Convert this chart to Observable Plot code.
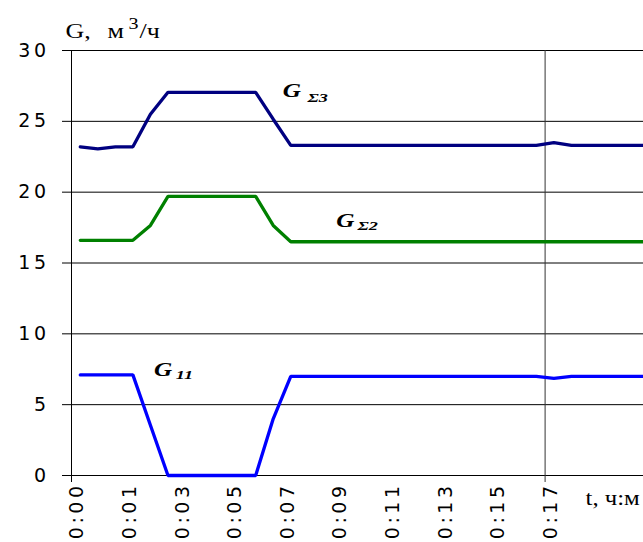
<!DOCTYPE html>
<html><head><meta charset="utf-8">
<script src="https://cdn.jsdelivr.net/npm/d3@7"></script>
<script src="https://cdn.jsdelivr.net/npm/@observablehq/plot@0.6"></script>
<style>
html,body{margin:0;padding:0;background:#fff;overflow:hidden;}
</style>
</head><body>
<div id="chart"></div>
<script>
// Series values, one per time step (category index 0..33)
const gSigma3 = [23.2, 23.05, 23.2, 23.2, 25.5, 27.05, 27.05, 27.05, 27.05, 27.05, 27.05, 25.15,
  23.3, 23.3, 23.3, 23.3, 23.3, 23.3, 23.3, 23.3, 23.3, 23.3, 23.3, 23.3, 23.3, 23.3, 23.3,
  23.5, 23.3, 23.3, 23.3, 23.3, 23.3, 23.3];
const gSigma2 = [16.6, 16.6, 16.6, 16.6, 17.65, 19.7, 19.7, 19.7, 19.7, 19.7, 19.7, 17.65,
  16.5, 16.5, 16.5, 16.5, 16.5, 16.5, 16.5, 16.5, 16.5, 16.5, 16.5, 16.5, 16.5, 16.5, 16.5,
  16.5, 16.5, 16.5, 16.5, 16.5, 16.5, 16.5];
const g11 = [7.1, 7.1, 7.1, 7.1, 3.55, 0, 0, 0, 0, 0, 0, 4.0,
  7.0, 7.0, 7.0, 7.0, 7.0, 7.0, 7.0, 7.0, 7.0, 7.0, 7.0, 7.0, 7.0, 7.0, 7.0,
  6.85, 7.0, 7.0, 7.0, 7.0, 7.0, 7.0];

// Tick labels: one label every 3rd time step
const xTickIndex = [0, 3, 6, 9, 12, 15, 18, 21, 24, 27];
const xTickLabels = ["0:00", "0:01", "0:03", "0:05", "0:07", "0:09", "0:11", "0:13", "0:15", "0:17"];
const yTicks = [0, 5, 10, 15, 20, 25, 30];
const markerBoundary = [27]; // vertical line at the start of step 27

// Series names (drawn as G + subscript)
const seriesNames = [
  {main: "G", sub: "Σ3"},
  {main: "G", sub: "Σ2"},
  {main: "G", sub: "11"}
];

// ---- table built from the arrays ----
const rows = gSigma3.map((_, i) => ({x: i + 0.5, g3: gSigma3[i], g2: gSigma2[i], g11: g11[i]}));
const tickPos = xTickIndex.map(i => i + 0.5);

// annotation placement (data units)
const labelPos = [
  {gx: 12.05, gy: 26.7, sx: 13.45, sy: 26.35},
  {gx: 15.1, gy: 17.53, sx: 16.3, sy: 17.34},
  {gx: 4.7, gy: 6.99, sx: 5.95, sy: 6.83}
];
const mainLabels = seriesNames.map((d, i) => ({t: d.main, x: labelPos[i].gx, y: labelPos[i].gy}));
const subLabels = seriesNames.map((d, i) => ({t: d.sub, x: labelPos[i].sx, y: labelPos[i].sy}));

const serif = "'Liberation Serif', 'Times New Roman', serif";
const sans = "'DejaVu Sans', sans-serif";

const chart = Plot.plot({
  width: 643,
  height: 542,
  marginLeft: 71,
  marginRight: 0,
  marginTop: 50,
  marginBottom: 67,
  style: {background: "#fff", overflow: "hidden"},
  x: {type: "linear", domain: [0, 32.61], axis: null, label: null},
  y: {domain: [0, 30], axis: null, label: null},
  marks: [
    Plot.ruleY(yTicks, {stroke: "#000", strokeWidth: 1, insetLeft: -9}),
    Plot.ruleX([0], {stroke: "#000", strokeWidth: 1, insetBottom: -7}),
    Plot.ruleX(markerBoundary, {stroke: "#333", strokeWidth: 1, insetBottom: -7}),
    Plot.line(rows, {x: "x", y: "g3", stroke: "#000080", strokeWidth: 3.3, strokeLinejoin: "miter"}),
    Plot.line(rows, {x: "x", y: "g2", stroke: "#008000", strokeWidth: 3.3, strokeLinejoin: "miter"}),
    Plot.line(rows, {x: "x", y: "g11", stroke: "#0000ff", strokeWidth: 3.3, strokeLinejoin: "miter"}),
    Plot.axisY({ticks: yTicks, tickSize: 0, tickPadding: 22, fontSize: 19, fontFamily: sans, fill: "#000", label: null}),
    Plot.axisX({ticks: tickPos, tickFormat: d => xTickLabels[tickPos.indexOf(d)], tickRotate: -90, tickSize: 0, tickPadding: 7, dx: -3,
      fontSize: 19, fontFamily: sans, fill: "#000", label: null}),
    Plot.text(mainLabels, {x: "x", y: "y", text: "t", textAnchor: "start", lineAnchor: "bottom", fontSize: 18,
      fontFamily: serif, fontWeight: "bold", fontStyle: "italic", fill: "#000"}),
    Plot.text(subLabels, {x: "x", y: "y", text: "t", textAnchor: "start", lineAnchor: "bottom", fontSize: 13,
      fontFamily: serif, fontWeight: "bold", fontStyle: "italic", fill: "#000"}),
    // axis titles
    Plot.text(["G,"], {frameAnchor: "top-left", dx: -6, dy: -13, textAnchor: "start", lineAnchor: "bottom", fontSize: 22, fontFamily: serif, fill: "#000"}),
    Plot.text(["м"], {frameAnchor: "top-left", dx: 36, dy: -13, textAnchor: "start", lineAnchor: "bottom", fontSize: 22, fontFamily: serif, fill: "#000"}),
    Plot.text(["3"], {frameAnchor: "top-left", dx: 57, dy: -22, textAnchor: "start", lineAnchor: "bottom", fontSize: 17, fontFamily: serif, fill: "#000"}),
    Plot.text(["/ч"], {frameAnchor: "top-left", dx: 68, dy: -13, textAnchor: "start", lineAnchor: "bottom", fontSize: 22, fontFamily: serif, fill: "#000"}),
    Plot.text(["t, ч:м"], {frameAnchor: "bottom-right", dx: -58, dy: 29, textAnchor: "start", lineAnchor: "bottom", fontSize: 21, fontFamily: serif, fill: "#000"})
  ]
});

document.getElementById("chart").append(chart);

// typographic adjustments (wide, letter-spaced look of the original)
chart.querySelectorAll('g[aria-label="y-axis tick label"] text, g[aria-label="x-axis tick label"] text').forEach(t => {
  t.setAttribute("letter-spacing", "3.5");
  t.style.letterSpacing = "3.5px";
});
function stretch(selector, f) {
  chart.querySelectorAll(selector).forEach(t => {
    let tr = t.getAttribute("transform");
    if (!tr) {
      const x = +t.getAttribute("x") || 0, y = +t.getAttribute("y") || 0;
      t.removeAttribute("x"); t.removeAttribute("y");
      tr = `translate(${x},${y})`;
    }
    t.setAttribute("transform", `${tr} scale(${f},1)`);
  });
}
stretch('g[aria-label="text"][font-style="italic"] text', 1.4);
stretch('g[aria-label="text"]:not([font-style="italic"]) text', 1.18);
</script>
</body></html>
